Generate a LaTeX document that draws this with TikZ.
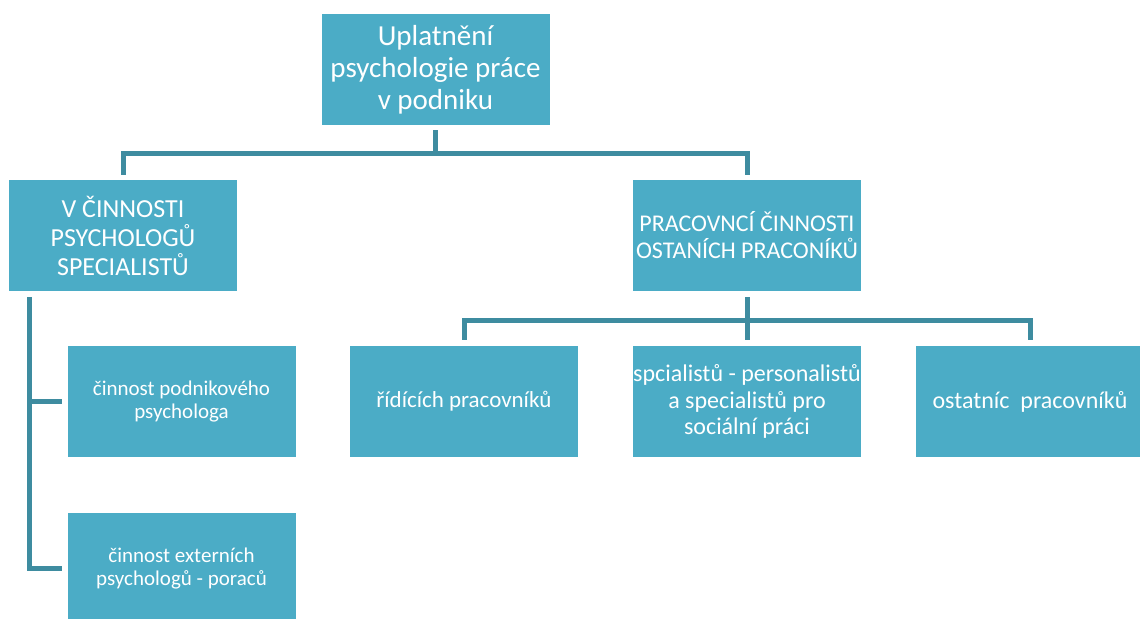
\documentclass[tikz,border=0pt]{standalone}
\usepackage{fontspec}
\setmainfont{Carlito}
\usetikzlibrary{positioning,calc}
\definecolor{boxfill}{HTML}{4BACC6}
\definecolor{linkcol}{RGB}{62,140,160}

\begin{document}
\begin{tikzpicture}[x=0.5pt,y=-0.5pt,
  unit/.style={fill=boxfill,text=white,minimum width=114pt,minimum height=55.5pt,inner sep=0pt,align=center},
  link/.style={draw=linkcol,line width=2.5pt}]
\useasboundingbox (0,0) rectangle (1140,619);
\node[unit,font=\fontsize{14.5}{16}\selectfont] (top) at (435.5,69.5) {Uplatnění\\psychologie práce\\v podniku};
\node[unit,font=\fontsize{13}{14.5}\selectfont] (lone) at (123,235.5) {V ČINNOSTI\\PSYCHOLOGŮ\\SPECIALISTŮ};
\node[unit,font=\fontsize{12}{13.5}\selectfont] (rone) at (747,235.5) {PRACOVNCÍ ČINNOSTI\\OSTANÍCH PRACONÍKŮ};
\node[unit,font=\fontsize{10.5}{11.7}\selectfont] (lcone) at (181.5,401.5) {činnost podnikového\\psychologa};
\node[unit,font=\fontsize{10.5}{11.7}\selectfont,below=27.5pt of lcone] (lctwo) {činnost externích\\psychologů - poraců};
\node[unit,font=\fontsize{11.5}{13.3}\selectfont] (rcone) at (464,401.5) {řídících pracovníků};
\node[unit,font=\fontsize{12}{13.3}\selectfont] (rctwo) at (747,401.5) {spcialistů - personalistů\\a specialistů pro\\sociální práci};
\node[unit,font=\fontsize{12}{13.3}\selectfont] (rcthree) at (1030,401.5) {ostatníc\ \ pracovníků};
% top fork
\coordinate (topfork) at ([yshift=-14pt]top.south);
\draw[link] ([yshift=-2.5pt]top.south) -- (topfork);
\draw[link] ([yshift=2.5pt]lone.north) |- (topfork) -| ([yshift=2.5pt]rone.north);
% right fork
\coordinate (rfork) at ([yshift=-14.5pt]rone.south);
\draw[link] ([yshift=-3pt]rone.south) -- (rfork);
\draw[link] ([yshift=3pt]rcone.north) |- (rfork) -| ([yshift=3pt]rcthree.north);
\draw[link] (rfork) -- ([yshift=3pt]rctwo.north);
% left spine
\coordinate (spine) at ([xshift=10.5pt,yshift=-3pt]lone.south west);
\draw[link] (spine) |- ([xshift=-2.5pt]lctwo.west);
\draw[link] (spine |- lcone.west) -- ([xshift=-2.5pt]lcone.west);
\end{tikzpicture}
\end{document}
